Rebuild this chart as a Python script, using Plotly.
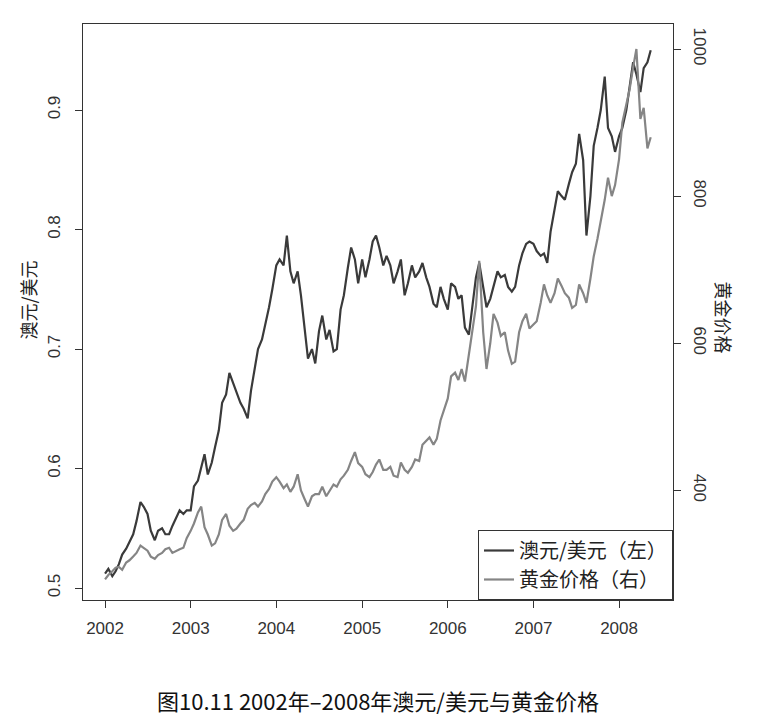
import pandas as pd
import plotly.graph_objects as go

# semi-monthly readings (1st and 15th of each month), Jan 2002 - May 2008
dates = pd.date_range("2002-01-01", "2008-05-15", freq="SMS")

aud_usd = [
    # 2002
    0.512, 0.516, 0.510, 0.514, 0.520, 0.528, 0.533, 0.538, 0.545, 0.556, 0.572, 0.568,
    0.562, 0.548, 0.540, 0.548, 0.550, 0.545, 0.545, 0.552, 0.560, 0.565, 0.562, 0.565,
    # 2003
    0.565, 0.585, 0.590, 0.600, 0.612, 0.595, 0.605, 0.618, 0.632, 0.655, 0.662, 0.680,
    0.672, 0.665, 0.655, 0.650, 0.642, 0.665, 0.685, 0.700, 0.708, 0.720, 0.735, 0.750,
    # 2004
    0.770, 0.775, 0.770, 0.795, 0.765, 0.755, 0.765, 0.745, 0.715, 0.692, 0.700, 0.688,
    0.715, 0.728, 0.708, 0.716, 0.698, 0.700, 0.733, 0.745, 0.768, 0.785, 0.775, 0.755,
    # 2005
    0.775, 0.760, 0.775, 0.790, 0.795, 0.785, 0.770, 0.778, 0.770, 0.755, 0.765, 0.775,
    0.745, 0.755, 0.770, 0.760, 0.765, 0.772, 0.760, 0.752, 0.738, 0.735, 0.752, 0.742,
    # 2006
    0.733, 0.755, 0.752, 0.742, 0.745, 0.718, 0.712, 0.735, 0.760, 0.772, 0.752, 0.735,
    0.742, 0.752, 0.765, 0.760, 0.762, 0.752, 0.748, 0.752, 0.770, 0.780, 0.788, 0.790,
    # 2007
    0.788, 0.782, 0.778, 0.780, 0.772, 0.798, 0.818, 0.832, 0.828, 0.825, 0.838, 0.848,
    0.855, 0.880, 0.858, 0.795, 0.828, 0.870, 0.885, 0.900, 0.928, 0.885, 0.878, 0.865,
    # 2008
    0.878, 0.885, 0.900, 0.918, 0.940, 0.930, 0.915, 0.935, 0.940, 0.950,
]

gold = [
    # 2002
    279, 285, 290, 295, 296, 292, 302, 305, 310, 315, 325, 322,
    318, 310, 307, 312, 315, 320, 322, 315, 318, 320, 322, 335,
    # 2003
    345, 355, 370, 378, 350, 340, 325, 328, 340, 360, 368, 352,
    345, 348, 355, 360, 375, 380, 383, 378, 385, 395, 402, 412,
    # 2004
    418, 412, 403, 408, 398, 405, 422, 400, 388, 378, 392, 395,
    395, 405, 392, 400, 408, 405, 415, 420, 428, 440, 452, 437,
    # 2005
    432, 422, 418, 425, 435, 442, 428, 428, 432, 420, 418, 438,
    428, 424, 432, 442, 440, 462, 468, 472, 462, 470, 495, 510,
    # 2006
    525, 555, 560, 550, 565, 548, 585, 610, 650, 712, 615, 565,
    600, 640, 628, 610, 615, 590, 572, 575, 615, 630, 640, 620,
    # 2007
    625, 630, 655, 680, 665, 655, 668, 688, 678, 668, 662, 648,
    652, 680, 668, 655, 688, 718, 742, 765, 795, 825, 800, 815,
    # 2008
    850, 900, 925, 945, 975, 1000, 905, 920, 865, 880,
]

year_ticks = ["2002", "2003", "2004", "2005", "2006", "2007", "2008"]
left_ticks = [0.5, 0.6, 0.7, 0.8, 0.9]
right_ticks = [400, 600, 800, 1000]

axis_col = "#333333"
tick_font = dict(family="Liberation Sans, Arial", size=17, color=axis_col)
cjk = "Noto Sans CJK SC"

fig = go.Figure()
fig.add_trace(go.Scatter(x=dates, y=aud_usd, mode="lines", name="澳元/美元（左）",
                         line=dict(color="#3a3a3a", width=2.2)))
fig.add_trace(go.Scatter(x=dates, y=gold, mode="lines", name="黄金价格（右）",
                         yaxis="y2", line=dict(color="#858585", width=2.2)))

# the page body adds 8px, so margins are shifted by that much
fig.update_layout(
    width=758, height=716,
    margin=dict(l=75, r=93, t=16, b=124),
    paper_bgcolor="white", plot_bgcolor="white",
    showlegend=True,
    legend=dict(x=1, y=0, xanchor="right", yanchor="bottom",
                bordercolor=axis_col, borderwidth=1, bgcolor="white",
                font=dict(family=cjk, size=20, color="#222"),
                itemwidth=30, tracegroupgap=0),
    xaxis=dict(
        type="date", automargin=False,
        range=["2001-09-29", "2008-08-18"],
        tickvals=[y + "-01-01" for y in year_ticks], ticktext=year_ticks,
        ticks="outside", ticklen=7, tickcolor=axis_col, tickfont=tick_font,
        ticklabelstandoff=6,
        showline=True, mirror=True, linecolor=axis_col, linewidth=1,
        showgrid=False, zeroline=False,
    ),
    yaxis=dict(
        range=[0.49, 0.972], tickvals=left_ticks, automargin=False,
        ticktext=[f"{v:.1f}" for v in left_ticks], tickangle=-90,
        ticks="outside", ticklen=7, tickcolor=axis_col, tickfont=tick_font,
        ticklabelstandoff=8,
        showline=True, mirror=True, linecolor=axis_col, linewidth=1,
        showgrid=False, zeroline=False,
    ),
    yaxis2=dict(
        overlaying="y", side="right", automargin=False,
        range=[251, 1034], tickvals=right_ticks,
        ticktext=[str(v) for v in right_ticks], tickangle=90,
        ticks="outside", ticklen=7, tickcolor=axis_col, tickfont=tick_font,
        ticklabelstandoff=6,
        showline=False, showgrid=False, zeroline=False,
    ),
    annotations=[
        dict(text="澳元/美元", x=-0.093, y=0.52, xref="paper", yref="paper",
             xanchor="center", yanchor="middle",
             showarrow=False, textangle=-90,
             font=dict(family=cjk, size=18, color="#222")),
        dict(text="黄金价格", x=1.087, y=0.49, xref="paper", yref="paper",
             xanchor="center", yanchor="middle",
             showarrow=False, textangle=90,
             font=dict(family=cjk, size=18, color="#222")),
        dict(text="图10.11 2002年–2008年澳元/美元与黄金价格", x=0.5, y=-0.174,
             xref="paper", yref="paper", xanchor="center", yanchor="middle",
             showarrow=False,
             font=dict(family=cjk, size=22, color="#111")),
    ],
)

fig.write_html("out.html")
